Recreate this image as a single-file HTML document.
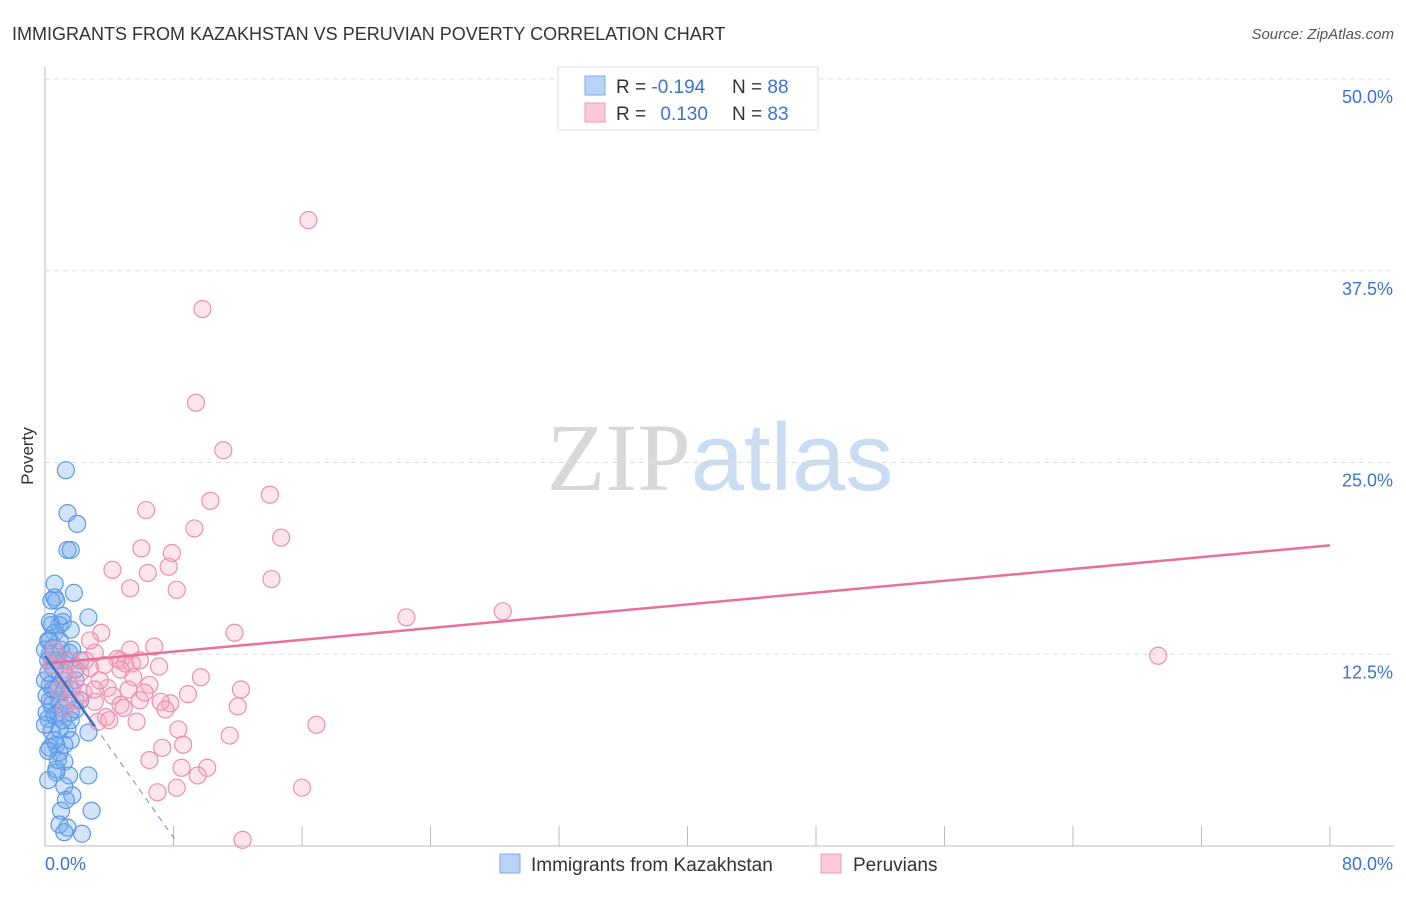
<!DOCTYPE html>
<html><head><meta charset="utf-8"><style>
body{margin:0;background:#fff;font-family:"Liberation Sans",sans-serif;}
svg text{font-family:"Liberation Sans",sans-serif;}
</style></head><body>
<svg id="chart" width="1406" height="892" xmlns="http://www.w3.org/2000/svg">
<text x="12" y="40" font-size="18" fill="#333">IMMIGRANTS FROM KAZAKHSTAN VS PERUVIAN POVERTY CORRELATION CHART</text>
<text x="1394" y="39" font-size="15" fill="#555" text-anchor="end" font-style="italic">Source: ZipAtlas.com</text>
<text x="720" y="490" font-size="96" text-anchor="middle"><tspan fill="#d8d8d8" font-family="Liberation Serif">ZIP</tspan><tspan fill="#c9dcf2">atlas</tspan></text>
<g id="grid"></g>
<g id="axes"></g>
<g id="blue"></g>
<g id="pink"></g>
<g id="trends"></g>
<text transform="translate(33,456) rotate(-90)" font-size="17" fill="#333" text-anchor="middle">Poverty</text>
<g>
<rect x="558" y="67" width="260" height="63" fill="#fff" stroke="#ddd"/>
<rect x="585" y="76" width="20" height="19" fill="#b7d3f5" stroke="#7aaee8"/>
<rect x="585" y="103" width="20" height="19" fill="#fcc9d8" stroke="#ee9ab5"/>
<text x="616" y="93" font-size="19" fill="#333">R = <tspan fill="#3b74d0">-0.194</tspan></text>
<text x="732" y="93" font-size="19" fill="#333">N = <tspan fill="#3b74d0">88</tspan></text>
<text x="616" y="120" font-size="19" fill="#333">R = <tspan fill="#3b74d0" dx="9">0.130</tspan></text>
<text x="732" y="120" font-size="19" fill="#333">N = <tspan fill="#3b74d0">83</tspan></text>
</g>
<g>
<rect x="500" y="854" width="20" height="19" fill="#b7d3f5" stroke="#7aaee8"/>
<text x="531" y="871" font-size="19" fill="#333">Immigrants from Kazakhstan</text>
<rect x="821" y="854" width="20" height="19" fill="#fcc9d8" stroke="#ee9ab5"/>
<text x="853" y="871" font-size="19" fill="#333">Peruvians</text>
</g>
</svg>
<script>
const yTicks=[12.5,25,37.5,50];
const yTickLabels=["12.5%","25.0%","37.5%","50.0%"];
const xTicks=[0,8,16,24,32,40,48,56,64,72,80];
const xEndLabels=["0.0%","80.0%"];
const blueX=[1.3,1.4,2.0,1.4,1.6,0.6,0.6,1.8,0.7,2.7,0.9,0.4,1.1,0.6,1.6,0.3,0.5,1.0,1.5,2.2,0.7,0.4,0.2,1.2,1.9,0.3,0.7,0.1,0.9,0.4,1.1,0.2,0.8,1.6,1.4,2.7,1.6,0.7,1.2,0.3,0.9,1.2,1.5,0.7,0.2,2.7,1.2,1.7,1.0,2.9,0.9,1.4,1.2,2.3,0.3,0.6,0,0.2,1.1,1.6,0.4,0.8,0.9,1.3,0,2.2,0.4,1.9,0.2,1.1,0.6,1.4,0.8,0.3,1.7,0.1,1.2,0.6,0.9,0.2,1.6,0.7,1.3,0,0.5,1.9,0.3,1.1];
const blueY=[24.5,21.7,21.0,19.3,19.3,17.1,16.2,16.5,16.0,14.9,14.4,14.4,14.6,13.9,14.1,13.4,12.9,12.8,12.6,12.1,12.1,11.8,11.3,11.3,10.8,10.5,10.2,9.8,9.5,9.2,9.0,8.3,8.7,8.7,7.6,7.4,6.9,6.6,6.6,6.4,6.1,5.5,4.6,4.8,4.3,4.6,3.9,3.3,2.3,2.3,1.4,1.2,0.9,0.8,9.5,8.5,12.8,12.1,10.8,10.2,7.5,5.6,13.4,12.1,10.8,9.5,16.0,11.5,13.4,8.2,6.9,9.5,12.1,14.6,12.8,8.7,10.2,11.5,7.6,6.2,8.2,5.0,3.0,7.9,10.2,8.9,12.5,15.0];
const pinkX=[16.4,9.8,9.4,11.1,14.0,10.3,6.3,9.3,14.7,6.0,7.9,4.2,7.7,6.4,14.1,5.3,8.2,22.5,28.5,69.3,3.5,6.8,11.8,3.1,4.7,4.5,5.0,3.7,5.4,7.1,2.2,2.8,1.4,9.7,5.5,3.9,6.5,1.7,2.4,5.2,12.2,8.9,4.2,7.8,7.2,3.1,4.7,12.0,5.9,7.5,5.7,3.3,16.9,8.3,11.5,8.6,7.3,3.8,4.9,6.5,8.5,10.1,9.5,7.0,8.2,16.0,12.3,4.7,3.4,2.5,1.1,0.6,1.9,2.8,1.6,5.9,6.2,0.9,4.0,0.4,1.2,3.1,5.3];
const pinkY=[40.8,35.0,28.9,25.8,22.9,22.5,21.9,20.7,20.1,19.4,19.1,18.0,18.2,17.8,17.4,16.8,16.7,14.9,15.3,12.4,13.9,13.0,13.9,12.6,12.1,12.2,11.9,11.8,11.9,11.7,11.3,11.6,11.0,11.0,11.0,10.3,10.5,10.2,10.0,10.2,10.2,9.9,9.8,9.3,9.4,9.4,9.2,9.1,9.5,8.9,8.1,8.1,7.9,7.6,7.2,6.6,6.4,8.4,9.0,5.6,5.1,5.1,4.6,3.5,3.8,3.8,0.4,11.5,10.8,12.1,11.5,12.8,9.5,13.4,12.1,12.1,10.0,10.2,8.2,11.8,8.9,10.2,12.8];
const pinkTrend=[[0,11.9],[80,19.6]];
const blueTrend=[[0,12.4],[3.1,7.8],[8.1,0.4]];
const NS="http://www.w3.org/2000/svg";
const X0=45,X1=1330,Y0=846,Y50=79;
const sx=v=>X0+(X1-X0)*v/80;
const sy=v=>Y0-(Y0-Y50)*v/50;
function mk(tag,attrs,parent){const e=document.createElementNS(NS,tag);for(const k in attrs)e.setAttribute(k,attrs[k]);parent.appendChild(e);return e;}
const grid=document.getElementById('grid'),axes=document.getElementById('axes');
yTicks.forEach((t,i)=>{
  const l=mk('line',{x1:X0,x2:1394,y1:sy(t),y2:sy(t),stroke:'#ddd','stroke-dasharray':'5,4'},grid);
  
  
  const tx=mk('text',{x:1393,y:sy(t)+24,'font-size':18,fill:'#3b74d0','text-anchor':'end'},axes);
  tx.textContent=yTickLabels[i];
  
  
});
const ya=mk('line',{x1:X0,x2:X0,y1:67,y2:Y0,stroke:'#bbb'},axes);


const xa=mk('line',{x1:X0,x2:1394,y1:Y0,y2:Y0,stroke:'#bbb'},axes);


xTicks.forEach(t=>{
  const l=mk('line',{x1:sx(t),x2:sx(t),y1:826,y2:Y0,stroke:'#bbb'},axes);
  
  
});
const xl0=mk('text',{x:45,y:870,'font-size':18,fill:'#3b74d0'},axes);xl0.textContent=xEndLabels[0];


const xl1=mk('text',{x:1393,y:870,'font-size':18,fill:'#3b74d0','text-anchor':'end'},axes);xl1.textContent=xEndLabels[1];


const bg=document.getElementById('blue'),pg=document.getElementById('pink');
blueX.forEach((v,i)=>{
  const c=mk('circle',{cx:sx(v),cy:sy(blueY[i]),r:8.5,fill:'rgba(110,165,235,0.3)',stroke:'#5b9be6','stroke-width':1.2},bg);
  
  
});
pinkX.forEach((v,i)=>{
  const c=mk('circle',{cx:sx(v),cy:sy(pinkY[i]),r:8.5,fill:'rgba(248,170,195,0.3)',stroke:'#eb8fae','stroke-width':1.2},pg);
  
  
});
const tg=document.getElementById('trends');
const pt=mk('line',{x1:sx(pinkTrend[0][0]),y1:sy(pinkTrend[0][1]),x2:sx(pinkTrend[1][0]),y2:sy(pinkTrend[1][1]),stroke:'#e8719a','stroke-width':2.5},tg);


const bt=mk('line',{x1:sx(blueTrend[0][0]),y1:sy(blueTrend[0][1]),x2:sx(blueTrend[1][0]),y2:sy(blueTrend[1][1]),stroke:'#3f6fc9','stroke-width':2.5},tg);


const bd=mk('line',{x1:sx(blueTrend[1][0]),y1:sy(blueTrend[1][1]),x2:sx(blueTrend[2][0]),y2:sy(blueTrend[2][1]),stroke:'#6a8fd6','stroke-width':1,'stroke-dasharray':'6,5'},tg);


</script>
</body></html>
